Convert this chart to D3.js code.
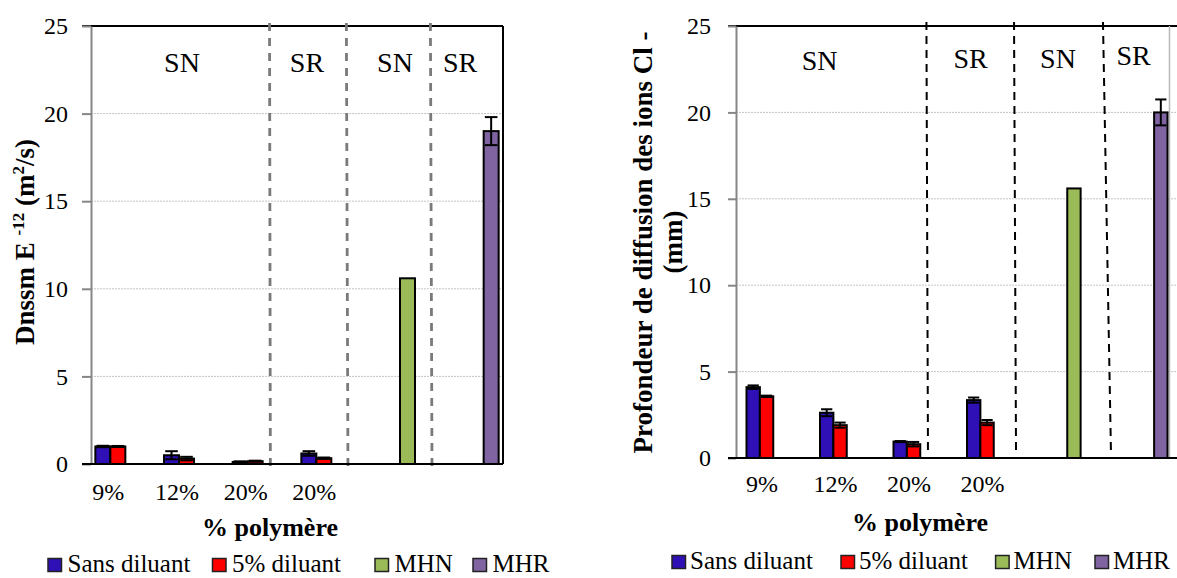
<!DOCTYPE html>
<html>
<head>
<meta charset="utf-8">
<script src="https://cdn.jsdelivr.net/npm/d3@7"></script>
<style>
  body { margin: 0; background: #fff; }
  svg { display: block; font-family: "Liberation Serif", "Times New Roman", serif; }
</style>
</head>
<body>
<svg id="fig" width="1177" height="578"></svg>
<script>
// ---- data ---------------------------------------------------------------
const categories = ["9%", "12%", "20%", "20%", "", ""];
const seriesNames = ["Sans diluant", "5% diluant", "MHN", "MHR"];
const yTicks = [0, 5, 10, 15, 20, 25];
const groupLabels = ["SN", "SR", "SN", "SR"];

// Dnssm (E-12 m²/s)
const dnssmSans    = [1.0, 0.5, 0.12, 0.6, null, null];
const dnssmSansErr = [0.04, 0.23, 0.03, 0.13, null, null];
const dnssm5       = [1.0, 0.31, 0.16, 0.33, null, null];
const dnssm5Err    = [0.03, 0.1, 0.03, 0.04, null, null];
const dnssmMHN     = [null, null, null, null, 10.6, null];
const dnssmMHR     = [null, null, null, null, null, 19.0];
const dnssmMHRErr  = [null, null, null, null, null, 0.8];

// Profondeur de diffusion des ions Cl- (mm)
const profSans    = [4.1, 2.62, 0.95, 3.35, null, null];
const profSansErr = [0.1, 0.2, 0.03, 0.15, null, null];
const prof5       = [3.57, 1.9, 0.8, 2.05, null, null];
const prof5Err    = [0.04, 0.15, 0.13, 0.15, null, null];
const profMHN     = [null, null, null, null, 15.6, null];
const profMHR     = [null, null, null, null, null, 20.0];
const profMHRErr  = [null, null, null, null, null, 0.75];

const seriesColors = ["#2e10b6", "#ff0000", "#9bbb59", "#8064a2"];

// ---- drawing ------------------------------------------------------------
const svg = d3.select("#fig");
const FONT = "'Liberation Serif', 'Times New Roman', serif";

function drawPanel(p) {
  const g = svg.append("g").attr("font-family", FONT);
  const idx = d3.range(categories.length);
  const x0 = d3.scaleBand().domain(idx).range(p.band).padding(0);
  const x1 = d3.scaleBand().domain(seriesNames)
    .range([p.barPad, x0.bandwidth() - p.barPad]).padding(0);
  const y = d3.scaleLinear().domain([0, 25]).range([p.bottom, p.top]);
  const slot = d3.scaleLinear().domain([0, categories.length]).range(p.band);

  // horizontal gridlines
  g.append("g").selectAll("line")
    .data(yTicks.filter(t => t > 0 && t < 25))
    .join("line")
    .attr("x1", p.frameLeft).attr("x2", p.gridRight)
    .attr("y1", d => y(d)).attr("y2", d => y(d))
    .attr("stroke", "#c4c4c4").attr("stroke-width", 1)
    .attr("stroke-dasharray", "2,1");

  // frame: top and right borders
  g.append("line")
    .attr("x1", p.frameLeft - p.tick).attr("x2", p.topRight)
    .attr("y1", y(25)).attr("y2", y(25))
    .attr("stroke", "#000").attr("stroke-width", 2);
  g.append("line")
    .attr("x1", p.frameRight).attr("x2", p.frameRight)
    .attr("y1", y(25)).attr("y2", y(0))
    .attr("stroke", p.rightColor).attr("stroke-width", p.rightWidth);

  // y axis
  const ya = g.append("g")
    .attr("transform", `translate(${p.frameLeft},0)`)
    .call(d3.axisLeft(y).tickValues(yTicks).tickSize(p.tick)
      .tickSizeOuter(0).tickPadding(p.tickPad).tickFormat(d3.format("d")));
  ya.attr("font-family", FONT);
  ya.select(".domain").attr("stroke", "#868686").attr("stroke-width", 2);
  ya.selectAll(".tick line").attr("stroke", "#868686").attr("stroke-width", 2);
  ya.selectAll(".tick text")
    .attr("font-size", 24).attr("font-family", FONT).attr("fill", "#000");

  // category separators (dashed)
  g.append("g").selectAll("line")
    .data(p.separators)
    .join("line")
    .attr("x1", d => slot(d[0])).attr("x2", d => slot(d[1]))
    .attr("y1", y(25) + p.sepTop).attr("y2", y(0) + p.sepBottom)
    .attr("stroke", p.sepColor).attr("stroke-width", p.sepWidth)
    .attr("stroke-dasharray", p.sepDash);

  // bars
  const series = p.series.map((vals, k) => ({
    name: seriesNames[k], color: seriesColors[k], vals, err: p.errors[k]
  }));
  const barData = [];
  series.forEach(s => s.vals.forEach((v, i) => {
    if (v != null) barData.push({ s, i, v, e: s.err ? s.err[i] : null });
  }));

  g.append("g").selectAll("rect")
    .data(barData)
    .join("rect")
    .attr("x", d => x0(d.i) + x1(d.s.name))
    .attr("width", x1.bandwidth())
    .attr("y", d => y(d.v))
    .attr("height", d => y(0) - y(d.v))
    .attr("fill", d => d.s.color)
    .attr("stroke", "#000").attr("stroke-width", 2);

  // error bars
  const eb = g.append("g").selectAll("g")
    .data(barData.filter(d => d.e != null))
    .join("g")
    .attr("transform", d => `translate(${x0(d.i) + x1(d.s.name) + x1.bandwidth() / 2},0)`);
  const cw = x1.bandwidth() * 0.42;
  eb.append("line")
    .attr("y1", d => y(d.v + d.e)).attr("y2", d => y(Math.max(0, d.v - d.e)))
    .attr("stroke", "#000").attr("stroke-width", 2);
  eb.append("line")
    .attr("x1", -cw).attr("x2", cw)
    .attr("y1", d => y(d.v + d.e)).attr("y2", d => y(d.v + d.e))
    .attr("stroke", "#000").attr("stroke-width", 2);
  eb.append("line")
    .attr("x1", -cw).attr("x2", cw)
    .attr("y1", d => y(Math.max(0, d.v - d.e))).attr("y2", d => y(Math.max(0, d.v - d.e)))
    .attr("stroke", "#000").attr("stroke-width", 2);

  // x axis baseline
  g.append("line")
    .attr("x1", p.frameLeft - p.tick).attr("x2", p.bottomRight)
    .attr("y1", y(0)).attr("y2", y(0))
    .attr("stroke", "#000").attr("stroke-width", 2);

  // category labels, centred under each pair of bars
  g.append("g").selectAll("text")
    .data(idx.filter(i => categories[i] !== ""))
    .join("text")
    .attr("x", i => x0(i) + x1(seriesNames[0]) + x1.bandwidth() + p.labelShift)
    .attr("y", p.catLabelY)
    .attr("text-anchor", "middle")
    .attr("font-size", 24).attr("fill", "#000")
    .text(i => categories[i]);

  // SN / SR group labels
  g.append("g").selectAll("text")
    .data(groupLabels)
    .join("text")
    .attr("x", (d, k) => slot(p.groupPos[k]))
    .attr("y", (d, k) => p.groupY[k])
    .attr("text-anchor", "middle")
    .attr("font-size", 28).attr("fill", "#000")
    .text(d => d);

  // x title
  g.append("text")
    .attr("x", p.xTitle[0]).attr("y", p.xTitle[1])
    .attr("text-anchor", "middle")
    .attr("font-size", 26).attr("font-weight", "bold")
    .text("% polymère");

  // legend
  const lg = g.append("g").selectAll("g")
    .data(series)
    .join("g")
    .attr("transform", (d, k) => `translate(${p.legendX[k]},${p.legendY})`);
  lg.append("rect")
    .attr("x", 0).attr("y", -13.5).attr("width", 13.5).attr("height", 13)
    .attr("fill", d => d.color).attr("stroke", "#222").attr("stroke-width", 1.5);
  lg.append("text")
    .attr("x", p.legendTextDx).attr("y", 0)
    .attr("font-size", 25).attr("fill", "#000")
    .text(d => d.name);

  return g;
}

// left panel: Dnssm
const left = drawPanel({
  band: [91, 503], barPad: 4.35, top: 26, bottom: 464,
  frameLeft: 91, frameRight: 503, topRight: 503, bottomRight: 503, gridRight: 503,
  rightColor: "#000", rightWidth: 2,
  tick: 9, tickPad: 14,
  separators: [[2.600, 2.612], [3.719, 3.742], [4.943, 4.966]],
  sepTop: -3, sepBottom: 3, sepColor: "#7a7a7a", sepWidth: 2.8, sepDash: "8,7",
  series: [dnssmSans, dnssm5, dnssmMHN, dnssmMHR],
  errors: [dnssmSansErr, dnssm5Err, null, dnssmMHRErr],
  labelShift: -2, catLabelY: 500,
  groupPos: [1.325, 3.145, 4.427, 5.374], groupY: [72, 72, 72, 72],
  xTitle: [270, 536],
  legendX: [48, 212.5, 375, 473], legendY: 572, legendTextDx: 19.5
});

left.append("text")
  .attr("transform", "translate(34,242) rotate(-90)")
  .attr("text-anchor", "middle")
  .attr("font-size", 27).attr("font-weight", "bold")
  .call(t => {
    t.append("tspan").text("Dnssm E ");
    t.append("tspan").attr("font-size", 17).attr("dy", -10).text("-12");
    t.append("tspan").attr("dy", 10).text(" (m");
    t.append("tspan").attr("font-size", 17).attr("dy", -10).text("2");
    t.append("tspan").attr("dy", 10).text("/s)");
  });

// right panel: chloride penetration depth
const right = drawPanel({
  band: [736.5, 1177.5], barPad: 10, top: 26, bottom: 458,
  frameLeft: 736, frameRight: 1169.5, topRight: 1177, bottomRight: 1177, gridRight: 1177,
  rightColor: "#b8b8b8", rightWidth: 1.5,
  tick: 8, tickPad: 17,
  separators: [[2.584, 2.605], [3.776, 3.803], [4.986, 5.095]],
  sepTop: -4, sepBottom: -5, sepColor: "#000", sepWidth: 2, sepDash: "8,6",
  series: [profSans, prof5, profMHN, profMHR],
  errors: [profSansErr, prof5Err, null, profMHRErr],
  labelShift: 2, catLabelY: 492,
  groupPos: [1.132, 3.185, 4.374, 5.403], groupY: [70, 68, 68, 65],
  xTitle: [920, 531],
  legendX: [672, 841, 995.6, 1095], legendY: 569, legendTextDx: 18
});

right.append("text")
  .attr("transform", "translate(652,242.5) rotate(-90)")
  .attr("text-anchor", "middle")
  .attr("font-size", 27).attr("font-weight", "bold")
  .text("Profondeur de diffusion des ions Cl -");
right.append("text")
  .attr("transform", "translate(682,242) rotate(-90)")
  .attr("text-anchor", "middle")
  .attr("font-size", 27).attr("font-weight", "bold")
  .text("(mm)");
</script>
</body>
</html>
